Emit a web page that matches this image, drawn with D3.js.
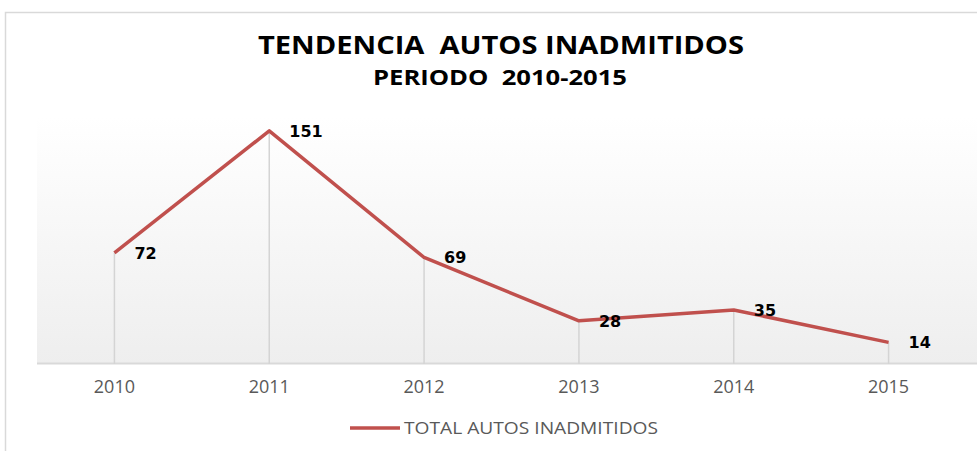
<!DOCTYPE html>
<html>
<head>
<meta charset="utf-8">
<script src="https://cdn.jsdelivr.net/npm/d3@7"></script>
<style>
body { margin: 0; background: #fff; }
svg { display: block; }
</style>
</head>
<body>
<svg id="chart" width="977" height="451"></svg>
<script>
const years = ["2010", "2011", "2012", "2013", "2014", "2015"];
const values = [72, 151, 69, 28, 35, 14];
const seriesName = "TOTAL AUTOS INADMITIDOS";
const titleText = "TENDENCIA  AUTOS INADMITIDOS";
const subtitleText = "PERIODO  2010-2015";

const svg = d3.select("#chart");
const lineColor = "#c0504d";

// outer chart frame
svg.append("rect")
.attr("x", 5.5)
.attr("y", 12.5)
.attr("width", 1000)
.attr("height", 500)
.attr("fill", "#fff")
.attr("stroke", "#d9d9d9")
.attr("stroke-width", 1.5);

let plotLeft = 37, plotRight = 966, plotTop = 117, plotBottom = 364;

let x = d3.scaleBand()
.domain(years)
.range([plotLeft, plotRight]);

let y = d3.scaleLinear()
.domain([0, 160])
.range([plotBottom, plotTop]);

// plot area gradient
let grad = svg.append("defs")
.append("linearGradient")
.attr("id", "bg")
.attr("x1", 0).attr("y1", 0)
.attr("x2", 0).attr("y2", 1);
grad.append("stop").attr("offset", "0%").attr("stop-color", "#ffffff");
grad.append("stop").attr("offset", "100%").attr("stop-color", "#eeeeee");

svg.append("rect")
.attr("x", plotLeft)
.attr("y", plotTop)
.attr("width", 977 - plotLeft)
.attr("height", plotBottom - plotTop)
.attr("fill", "url(#bg)");

// baseline
svg.append("line")
.attr("x1", plotLeft)
.attr("x2", 977)
.attr("y1", plotBottom - 0.5)
.attr("y2", plotBottom - 0.5)
.attr("stroke", "#d9d9d9")
.attr("stroke-width", 2);

let cx = d => x(d) + x.bandwidth() / 2;

// drop lines
svg.selectAll(".drop")
.data(values)
.join("line")
.attr("class", "drop")
.attr("x1", (d, i) => cx(years[i]))
.attr("x2", (d, i) => cx(years[i]))
.attr("y1", d => y(d))
.attr("y2", plotBottom)
.attr("stroke", "#d4d4d4")
.attr("stroke-width", 1.5);

let line = d3.line()
.x((d, i) => cx(years[i]))
.y(d => y(d));

svg.append("path")
.datum(values)
.attr("d", line)
.attr("fill", "none")
.attr("stroke", lineColor)
.attr("stroke-width", 3.5)
.attr("stroke-linejoin", "round");

// data labels
svg.selectAll(".lbl")
.data(values)
.join("text")
.attr("class", "lbl")
.attr("x", (d, i) => cx(years[i]) + 20)
.attr("y", d => y(d))
.attr("dy", "0.36em")
.style("font-family", "DejaVu Sans")
.style("font-weight", "bold")
.style("font-size", "16px")
.attr("fill", "#000")
.text(d => d);

// x axis labels
svg.selectAll(".xl")
.data(years)
.join("text")
.attr("class", "xl")
.attr("x", d => cx(d))
.attr("y", 387)
.attr("dy", "0.36em")
.style("text-anchor", "middle")
.style("font-family", "Open Sans")
.style("font-size", "18px")
.attr("fill", "#595959")
.text(d => d);

// titles
svg.append("text")
.attr("x", 501)
.attr("y", 45)
.attr("dy", "0.36em")
.style("text-anchor", "middle")
.style("white-space", "pre")
.style("font-family", "Open Sans")
.style("font-weight", "bold")
.style("font-size", "25px")
.attr("textLength", 486)
.attr("lengthAdjust", "spacingAndGlyphs")
.attr("fill", "#000")
.text(titleText);

svg.append("text")
.attr("x", 500)
.attr("y", 77)
.attr("dy", "0.36em")
.style("text-anchor", "middle")
.style("white-space", "pre")
.style("font-family", "Open Sans")
.style("font-weight", "bold")
.style("font-size", "21px")
.attr("textLength", 254)
.attr("lengthAdjust", "spacingAndGlyphs")
.attr("fill", "#000")
.text(subtitleText);

// legend
svg.append("line")
.attr("x1", 350)
.attr("x2", 400)
.attr("y1", 428)
.attr("y2", 428)
.attr("stroke", lineColor)
.attr("stroke-width", 3.5);

svg.append("text")
.attr("x", 404)
.attr("y", 428)
.attr("dy", "0.36em")
.style("font-family", "Open Sans")
.style("font-size", "16px")
.attr("textLength", 254)
.attr("lengthAdjust", "spacingAndGlyphs")
.attr("fill", "#595959")
.text(seriesName);
</script>
</body>
</html>
